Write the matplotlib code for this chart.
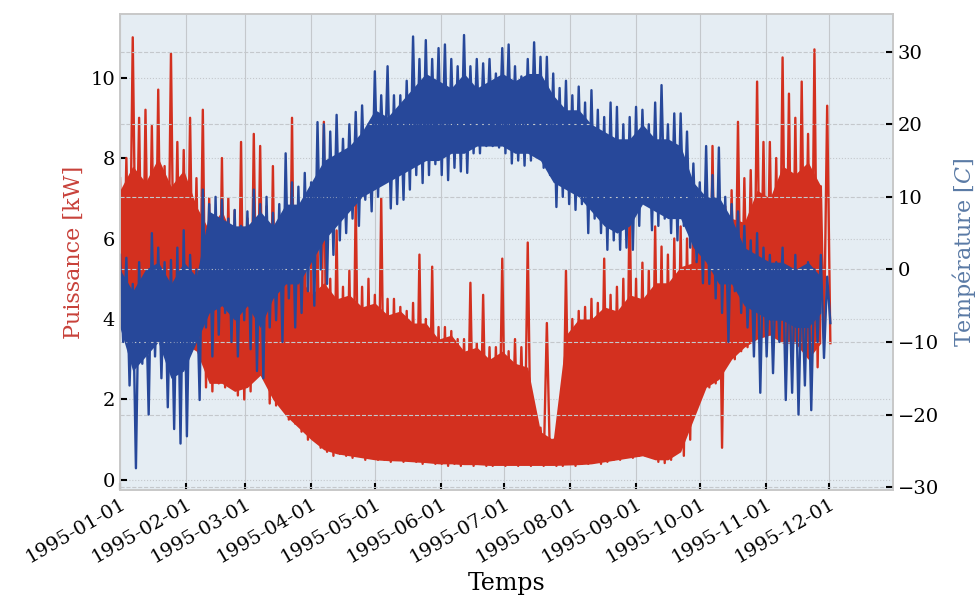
import numpy as np
import pandas as pd
import matplotlib
matplotlib.use("Agg")
import matplotlib.pyplot as plt
import matplotlib.dates as mdates

plt.rcParams['font.family'] = ['DejaVu Serif']
plt.rcParams['mathtext.fontset'] = 'dejavuserif'

# extrêmes relevés tous les 3 jours
jours = pd.date_range('1995-01-01', periods=112, freq='3D')

puissance_max = [
    7.5, 8.0, 11.0, 9.0, 9.2, 8.8, 9.7, 7.8, 10.6, 8.4, 8.2, 9.0, 7.5, 9.2, 7.0, 6.5,
    8.0, 7.0, 6.7, 8.4, 6.5, 8.6, 8.3, 6.8, 7.8, 6.5, 6.2, 9.0, 6.0, 5.8, 5.5, 6.0,
    8.9, 5.0, 6.2, 4.8, 5.2, 7.0, 4.8, 5.0, 4.6, 7.0, 4.5, 4.5, 4.3, 4.2, 4.4, 5.6,
    4.0, 5.3, 3.8, 3.8, 3.7, 3.5, 3.5, 4.9, 3.4, 4.6, 3.3, 3.3, 5.5, 3.2, 3.5, 3.3,
    5.9, 1.5, 1.3, 3.9, 1.0, 1.1, 5.2, 4.0, 4.2, 4.3, 4.5, 4.4, 5.5, 4.6, 4.8, 5.0,
    7.1, 5.0, 5.4, 5.2, 6.3, 5.8, 5.6, 6.0, 6.3, 6.0, 7.0, 6.5, 6.8, 8.3, 7.0, 6.8,
    7.2, 8.9, 7.5, 7.7, 9.9, 8.4, 8.4, 8.0, 10.5, 9.6, 9.0, 9.9, 8.6, 10.7, 7.3, 9.3,
]
puissance_min = [
    3.8, 4.2, 4.6, 3.6, 3.9, 3.5, 3.4, 3.6, 3.8, 3.5, 3.3, 3.6, 3.2, 2.3, 2.2, 2.4,
    2.3, 2.6, 2.1, 2.0, 2.2, 2.7, 2.6, 1.9, 1.85, 2.0, 1.5, 1.4, 1.2, 1.0, 1.05, 0.8,
    0.7, 0.6, 0.65, 0.6, 0.55, 0.6, 0.5, 0.55, 0.5, 0.5, 0.45, 0.5, 0.45, 0.5, 0.45, 0.4,
    0.45, 0.4, 0.4, 0.35, 0.4, 0.35, 0.4, 0.35, 0.4, 0.35, 0.35, 0.4, 0.35, 0.4, 0.35, 0.4,
    0.35, 0.4, 0.35, 0.4, 0.35, 0.35, 0.4, 0.35, 0.4, 0.4, 0.45, 0.4, 0.45, 0.5, 0.5, 0.6,
    0.55, 0.6, 0.6, 0.7, 0.45, 0.42, 0.5, 0.9, 0.6, 1.0, 2.6, 2.2, 2.3, 2.4, 0.8, 3.1,
    3.0, 3.2, 3.3, 3.5, 3.6, 3.4, 3.7, 3.5, 3.3, 3.0, 3.4, 3.6, 2.7, 2.8, 3.5, 3.4,
]
temperature_max = [
    2.0, 1.6, -2.0, 1.0, -1.0, 5.0, 3.0, 1.0, 1.3, 3.0, 5.4, 2.0, 0.0, 11.0, 9.0, 10.0,
    9.6, 7.0, 8.2, 6.0, 8.0, 11.0, 9.0, 10.0, 7.8, 9.0, 16.0, 12.0, 11.4, 13.3, 12.0, 20.3,
    20.0, 19.0, 21.3, 18.0, 20.0, 21.7, 22.6, 20.0, 27.3, 24.0, 28.0, 24.0, 24.0, 26.0, 32.1, 29.0,
    31.6, 29.0, 30.5, 31.0, 29.0, 28.0, 32.3, 28.0, 29.0, 28.4, 29.0, 27.0, 30.5, 31.0, 28.0, 26.6,
    29.0, 31.3, 29.3, 29.3, 27.0, 25.0, 26.0, 24.0, 25.2, 23.0, 24.7, 22.0, 21.0, 23.0, 22.4, 20.0,
    21.0, 22.4, 22.0, 20.0, 23.0, 25.4, 20.0, 21.5, 21.5, 19.0, 14.6, 12.0, 17.0, 13.0, 16.8, 10.0,
    9.0, 8.0, 6.0, 4.0, 5.0, 3.0, 2.0, 1.0, 3.0, 0.0, 2.0, -1.0, 1.0, 0.0, 2.0, -1.0,
]
temperature_min = [
    -10.0, -16.0, -27.4, -13.0, -20.0, -12.0, -15.0, -19.0, -22.0, -24.0, -23.0, -10.0, -18.0, -8.0, -12.0, -9.0,
    -6.0, -10.0, -12.0, -7.0, -11.0, -14.0, -15.0, -8.0, -7.0, -10.0, -4.0, -8.0, -6.0, -3.0, -5.0, 0.0,
    -2.0, 2.0, 4.0, 5.0, 7.0, 6.0, 9.6, 8.0, 10.0, 12.3, 8.4, 9.0, 9.6, 11.0, 13.0, 11.9,
    13.0, 14.5, 13.0, 12.3, 14.0, 13.5, 13.3, 16.0, 16.0, 17.0, 17.0, 16.8, 16.0, 14.6, 15.0, 14.3,
    15.0, 15.6, 14.0, 13.0, 8.6, 10.0, 9.0, 8.2, 9.0, 5.0, 7.0, 5.0, 2.7, 4.0, 2.7, 3.0,
    2.7, 6.0, 9.0, 5.4, 6.0, 7.0, 5.0, 4.0, 6.0, 3.0, 1.0, -1.9, -2.0, -4.0, -6.0, -10.0,
    -3.0, -6.0, -8.0, -12.0, -17.0, -12.0, -14.3, -10.0, -18.0, -17.0, -20.0, -16.0, -19.4, -10.0, -12.2, -7.4,
]

# partie "pleine" des courbes (niveau courant), tous les 6 jours
semaines = pd.date_range('1995-01-01', periods=56, freq='6D')

puissance_bas = [
    3.8, 4.2, 3.9, 3.5, 3.6, 3.4, 3.2, 2.4, 2.4, 2.2, 2.3, 2.6, 2.0, 1.6,
    1.3, 1.0, 0.75, 0.65, 0.6, 0.55, 0.5, 0.48, 0.47, 0.45, 0.43, 0.4, 0.4, 0.38,
    0.38, 0.36, 0.36, 0.36, 0.36, 0.36, 0.36, 0.37, 0.38, 0.4, 0.45, 0.5, 0.55, 0.6,
    0.5, 0.5, 0.7, 1.5, 2.3, 2.5, 3.0, 3.3, 3.5, 3.6, 3.4, 3.4, 3.0, 3.4,
]
puissance_haut = [
    7.2, 7.8, 7.4, 8.0, 7.3, 7.7, 6.8, 6.2, 6.7, 5.9, 6.4, 6.0, 5.9, 5.3,
    5.1, 4.6, 4.9, 4.5, 4.6, 4.3, 4.4, 4.1, 4.2, 3.9, 3.9, 3.5, 3.6, 3.2,
    3.3, 3.0, 3.2, 2.9, 2.8, 1.2, 1.0, 3.6, 4.0, 4.0, 4.3, 4.2, 4.6, 4.5,
    4.9, 4.9, 5.3, 5.4, 6.0, 5.9, 6.5, 6.4, 7.2, 7.0, 7.8, 7.6, 7.9, 7.3,
]
temperature_bas = [
    -8, -14, -12, -10, -15, -14, -10, -6, -5, -7, -5, -8, -4, -2,
    -2, 1, 4, 6, 8, 10, 11, 12, 13, 14, 15, 15, 16, 16,
    17, 17, 17, 16, 16, 15, 12, 11, 10, 8, 6, 5, 6, 9,
    8, 7, 7, 3, 1, -2, -2, -5, -6, -7, -7, -8, -8, -6,
]
temperature_haut = [
    0, -3, 0, 1, -2, 1, -1, 8, 7, 6, 6, 8, 6, 9,
    9, 12, 15, 16, 17, 19, 22, 21, 23, 25, 27, 26, 25, 27,
    25, 26, 27, 26, 27, 27, 24, 22, 22, 20, 19, 18, 18, 20,
    18, 18, 17, 12, 10, 10, 7, 3, 2, 1, 1, 0, 1, -1,
]

ROUGE = '#d3301f'
BLEU = '#27489a'


def zigzag(dates, hauts, bas):
    # alterne max et min (décalés d'un jour et demi) pour l'aspect oscillant
    t = np.empty(2 * len(dates), dtype='datetime64[ns]')
    v = np.empty(2 * len(dates))
    t[0::2] = dates.values
    t[1::2] = (dates + pd.Timedelta(hours=36)).values
    v[0::2] = hauts
    v[1::2] = bas
    return t, v


fig = plt.figure(figsize=(9.78, 6.03), dpi=100)
ax = fig.add_axes([0.1227, 0.1874, 0.7904, 0.7894])
ax.set_facecolor('#e5edf3')

# puissance : niveau courant + oscillations
ax.fill_between(semaines, puissance_bas, puissance_haut, color=ROUGE, lw=0)
t, v = zigzag(jours, puissance_max, puissance_min)
ax.plot(t, v, color=ROUGE, lw=1.7)

# température sur le second axe, tracée par-dessus
ax2 = ax.twinx()
ax2.fill_between(semaines, temperature_bas, temperature_haut, color=BLEU, lw=0)
t, v = zigzag(jours, temperature_max, temperature_min)
ax2.plot(t, v, color=BLEU, lw=1.7)

ax.set_xlim(pd.Timestamp('1995-01-01'), pd.Timestamp('1995-12-31'))
ax.set_ylim(-0.25, 11.58)
ax2.set_ylim(-30.4, 35.2)
ax.set_yticks([0, 2, 4, 6, 8, 10])
ax2.set_yticks([-30, -20, -10, 0, 10, 20, 30])

ax.set_xticks(pd.date_range('1995-01-01', '1995-12-01', freq='MS'))
ax.xaxis.set_major_formatter(mdates.DateFormatter('%Y-%m-%d'))
for lab in ax.get_xticklabels():
    lab.set_rotation(30)
    lab.set_ha('right')
    lab.set_rotation_mode('anchor')

ax.grid(True, axis='x', color='#c4c8cc', lw=0.8)
ax.grid(True, axis='y', color='#c4c8cc', lw=0.8, ls=':')
ax2.grid(True, axis='y', color='#c4c8cc', lw=0.8, ls='--')
ax.set_axisbelow(True)

for a in (ax, ax2):
    a.tick_params(direction='in', length=5, width=1.5, color='black', labelsize=14)
    for s in a.spines.values():
        s.set_color('#c8c8c8')
        s.set_linewidth(1.2)

ax.set_xlabel('Temps', fontsize=17)
ax.set_ylabel('Puissance [kW]', fontsize=16, color='#c8413a')
ax2.set_ylabel('Température [$C$]', fontsize=16, color='#5a7aa5', labelpad=8)

fig.savefig('out.png', dpi=100)
